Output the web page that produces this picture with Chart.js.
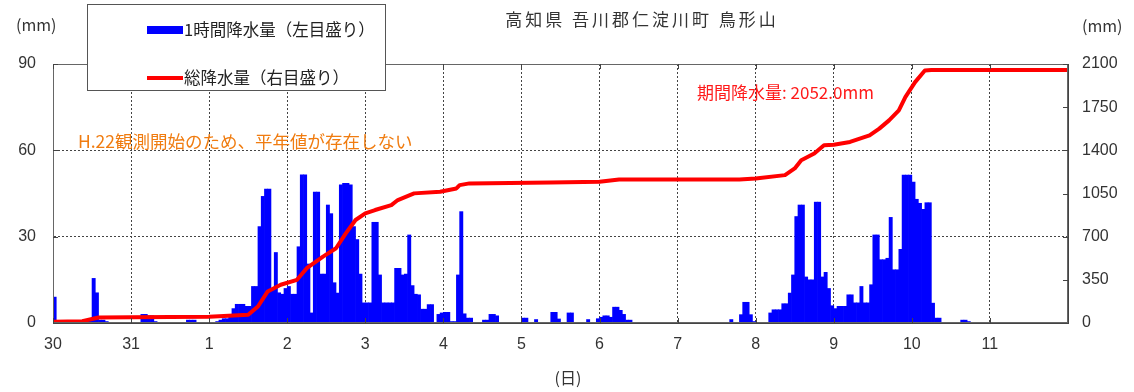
<!DOCTYPE html>
<html>
<head>
<meta charset="utf-8">
<script src="https://cdn.jsdelivr.net/npm/chart.js@4.4.0/dist/chart.umd.min.js"></script>
<style>
  html, body { margin: 0; padding: 0; background: #fff; }
</style>
</head>
<body>
<canvas id="chart" width="1134" height="392"></canvas>
<script>
// day labels under each 24h gridline
const dayLabels = ['30', '31', '1', '2', '3', '4', '5', '6', '7', '8', '9', '10', '11'];

// hourly rainfall (mm), one array per day, 24 values each
const rainDay30 = [9, 0, 0, 0, 0, 0, 0, 0, 0, 1, 1, 1.5, 15.5, 10.5, 1, 1, 0.5, 0, 0, 0, 0, 0, 0, 0];
const rainDay31 = [0, 0, 0, 3, 3, 2.5, 2.5, 0.5, 0, 0, 0, 0, 0, 0, 0, 0, 0, 1, 1, 1, 0, 0, 0, 0];
const rainDay1 = [0, 0, 0.5, 1, 1.5, 1.5, 2, 5, 6.5, 6.5, 6.5, 5.8, 5.8, 12.7, 12.7, 33.5, 44, 46.5, 46.5, 11.5, 24.5, 10.5, 10, 12];
const rainDay2 = [12.7, 10, 10, 26.5, 51.5, 51.5, 20.5, 3.5, 45.5, 45.5, 17, 17, 41, 38, 14, 10.4, 48, 48.5, 48.5, 48, 33.5, 29, 17, 7];
const rainDay3 = [7, 7, 35, 35, 16.7, 7, 7, 7, 7, 19, 19, 16.7, 17, 30.6, 13, 10, 9.8, 4.8, 4.8, 6.4, 6.4, 0, 3, 3.5];
const rainDay4 = [3.7, 3.7, 0.5, 0.5, 16.7, 38.7, 3.2, 1.7, 1.7, 0, 0, 0, 1, 1, 3, 3, 2.5, 0, 0, 0, 0, 0, 0, 0];
const rainDay5 = [1.7, 1.7, 0, 0, 1.2, 0, 0, 0, 0, 3.7, 3.7, 1.4, 0, 0, 3.5, 3.5, 0, 0, 0, 0, 1.2, 0, 0, 1.5];
const rainDay6 = [2, 2.5, 2.5, 2, 5.5, 5.5, 4.4, 3, 1, 1, 0, 0, 0, 0, 0, 0, 0, 0, 0, 0, 0, 0, 0, 0];
const rainDay7 = [0, 0, 0, 0, 0, 0, 0, 0, 0, 0, 0, 0, 0, 0, 0, 0, 1.2, 0, 0, 2.9, 7.2, 7.2, 2.9, 0.5];
const rainDay8 = [0, 0, 0, 0, 3.5, 4.6, 4.6, 4.6, 6.7, 6.7, 10.4, 16.7, 37, 41, 41, 16, 15, 15, 42, 42, 16, 17.6, 12, 6];
const rainDay9 = [5, 5.8, 5.8, 5.8, 9.8, 9.8, 7, 7, 12.7, 7, 7, 13.3, 30.6, 30.6, 22, 22, 22.5, 36.7, 18.5, 18.5, 25.6, 51.4, 51.4, 51.4];
const rainDay10 = [49, 43, 41.6, 39.5, 41.8, 41.8, 6.9, 1.7, 1.7, 0, 0, 0, 0, 0, 0, 1, 1, 0.5, 0, 0, 0, 0, 0, 0];
const rainDay11 = [0, 0, 0, 0, 0, 0, 0, 0, 0, 0, 0, 0, 0, 0, 0, 0, 0, 0, 0, 0, 0, 0, 0, 0];

// cumulative rainfall (mm), at hours from 30th 00:00
const totalHours = [0, 9, 14, 24, 48, 60, 63, 66, 70, 75, 78, 83, 87, 90, 93, 96, 99, 104, 106, 111, 119, 124, 125, 128, 153, 168, 174, 211, 216, 225, 228, 230, 234, 237, 240, 245, 251, 254, 257, 260, 262, 265, 268, 270, 312];
const totalValues = [10, 14, 45, 47, 50, 67, 134, 256, 310, 350, 444, 538, 606, 727, 835, 889, 916, 956, 997, 1051, 1064, 1091, 1118, 1132, 1140, 1145, 1164, 1164, 1172, 1199, 1253, 1320, 1374, 1441, 1445, 1468, 1522, 1576, 1643, 1724, 1832, 1953, 2047, 2052, 2052];

const seriesLabels = ['1時間降水量（左目盛り）', '総降水量（右目盛り）'];
const titleText = '高知県 吾川郡仁淀川町 鳥形山';
const noteText = 'H.22観測開始のため、平年値が存在しない';
const periodText = '期間降水量: 2052.0mm';

const hourlyRain = [].concat(rainDay30, rainDay31, rainDay1, rainDay2, rainDay3, rainDay4,
    rainDay5, rainDay6, rainDay7, rainDay8, rainDay9, rainDay10, rainDay11);

const JP = "'Noto Sans CJK JP', 'Noto Sans', sans-serif";
const NUM = "'Liberation Sans', Arial, sans-serif";

const decor = {
    id: 'decor',
    beforeDraw(chart) {
        const ctx = chart.ctx;
        ctx.save();
        ctx.fillStyle = '#fff';
        ctx.fillRect(0, 0, chart.width, chart.height);
        ctx.restore();
    },
    afterDraw(chart) {
        const { ctx, chartArea: a, scales } = chart;
        ctx.save();

        // plot frame
        ctx.strokeStyle = '#666';
        ctx.lineWidth = 1;
        ctx.strokeRect(a.left + 0.5, a.top + 0.5, a.right - a.left - 1, a.bottom - a.top - 1);

        // short inward ticks
        ctx.strokeStyle = '#444';
        ctx.beginPath();
        scales.x.ticks.forEach(t => {
            const px = Math.round(scales.x.getPixelForValue(t.value)) + 0.5;
            ctx.moveTo(px, a.top); ctx.lineTo(px, a.top + 5);
            ctx.moveTo(px, a.bottom); ctx.lineTo(px, a.bottom - 5);
        });
        scales.y1.ticks.forEach(t => {
            const py = Math.round(scales.y1.getPixelForValue(t.value)) + 0.5;
            ctx.moveTo(a.right, py); ctx.lineTo(a.right - 5, py);
        });
        scales.y.ticks.forEach(t => {
            const py = Math.round(scales.y.getPixelForValue(t.value)) + 0.5;
            ctx.moveTo(a.left, py); ctx.lineTo(a.left + 5, py);
        });
        ctx.stroke();

        // axis unit labels, title
        ctx.fillStyle = '#333';
        ctx.textBaseline = 'middle';
        ctx.font = '16px ' + JP;
        ctx.textAlign = 'left';
        ctx.fillText('(mm)', 16, 25);
        ctx.fillText('(mm)', 1082, 26);
        ctx.textAlign = 'center';
        ctx.fillText('(日)', 568, 378);
        ctx.font = '17px ' + JP;
        ctx.letterSpacing = '3px';
        ctx.fillText(titleText, 642, 20);
        ctx.letterSpacing = '0px';

        // legend box
        ctx.fillStyle = '#fff';
        ctx.fillRect(87, 4, 298, 87);
        ctx.strokeStyle = '#555';
        ctx.strokeRect(87.5, 4.5, 298, 86);
        ctx.fillStyle = chart.data.datasets[1].backgroundColor;
        ctx.fillRect(147, 26, 36, 8);
        ctx.strokeStyle = chart.data.datasets[0].borderColor;
        ctx.lineWidth = 4;
        ctx.beginPath();
        ctx.moveTo(147, 78); ctx.lineTo(183, 78);
        ctx.stroke();
        ctx.fillStyle = '#222';
        ctx.textAlign = 'left';
        ctx.font = '16.5px ' + JP;
        ctx.fillText(seriesLabels[0], 184, 30);
        ctx.fillText(seriesLabels[1], 184, 78);

        // notes
        ctx.font = '17.5px ' + JP;
        ctx.fillStyle = '#f07c10';
        ctx.fillText(noteText, 78, 141);
        ctx.font = '17px ' + JP;
        ctx.fillStyle = '#ff1a1a';
        ctx.fillText(periodText, 697, 93);

        ctx.restore();
    }
};

new Chart(document.getElementById('chart'), {
    data: {
        datasets: [
            {
                type: 'line',
                label: seriesLabels[1],
                data: totalHours.map((h, i) => ({ x: h, y: totalValues[i] })),
                yAxisID: 'y1',
                borderColor: '#ff0000',
                borderWidth: 4,
                pointRadius: 0,
                tension: 0,
                borderJoinStyle: 'round',
                borderCapStyle: 'round',
                order: 0,
            },
            {
                type: 'bar',
                label: seriesLabels[0],
                data: hourlyRain.map((v, i) => ({ x: i + 0.5, y: v })),
                yAxisID: 'y',
                backgroundColor: '#0000ff',
                borderWidth: 0,
                barPercentage: 1,
                categoryPercentage: 1,
                order: 1,
            },
        ],
    },
    options: {
        responsive: false,
        animation: false,
        devicePixelRatio: 1,
        layout: { padding: { top: 64, left: 0, right: 0, bottom: 0 } },
        plugins: { legend: { display: false }, tooltip: { enabled: false } },
        scales: {
            x: {
                type: 'linear',
                min: 0,
                max: 312,
                offset: false,
                afterFit: s => { s.height = 69; },
                grid: { color: '#444', drawTicks: false, offset: false },
                border: { color: '#444', dash: [2, 2] },
                ticks: {
                    stepSize: 24,
                    autoSkip: false,
                    maxRotation: 0,
                    padding: 12,
                    color: '#333',
                    font: { family: NUM, size: 16 },
                    callback: v => dayLabels[v / 24] ?? '',
                },
            },
            y: {
                position: 'left',
                min: 0,
                max: 90,
                afterFit: s => { s.width = 53; },
                grid: { color: '#444', drawTicks: false },
                border: { color: '#444', dash: [2, 2] },
                ticks: {
                    stepSize: 30,
                    padding: 17,
                    color: '#333',
                    font: { family: NUM, size: 16 },
                },
            },
            y1: {
                position: 'right',
                min: 0,
                max: 2100,
                afterFit: s => { s.width = 66; },
                grid: { drawOnChartArea: false, drawTicks: false },
                border: { color: '#444' },
                ticks: {
                    stepSize: 350,
                    padding: 14,
                    color: '#333',
                    font: { family: NUM, size: 16 },
                    callback: v => String(v),
                },
            },
        },
    },
    plugins: [decor],
});
</script>
</body>
</html>
